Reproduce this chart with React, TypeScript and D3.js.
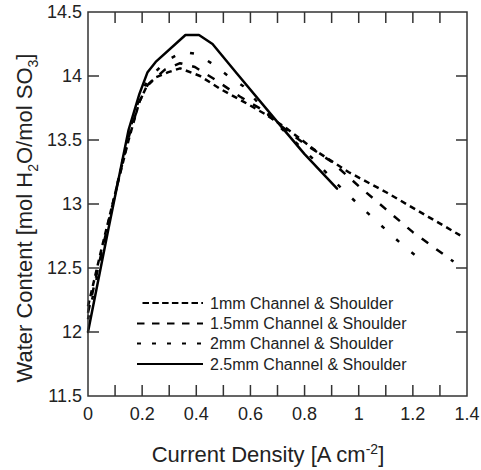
import React from "react";
import * as d3 from "d3";

const W = 481;
const H = 470;

const xTicks = [0, 0.2, 0.4, 0.6, 0.8, 1, 1.2, 1.4];
const xTickLabels = ["0", "0.2", "0.4", "0.6", "0.8", "1", "1.2", "1.4"];
const xMinorTicks = [0.1, 0.2, 0.3, 0.4, 0.5, 0.6, 0.7, 0.8, 0.9, 1.0, 1.1, 1.2, 1.3];
const yTicks = [11.5, 12, 12.5, 13, 13.5, 14, 14.5];
const yTickLabels = ["11.5", "12", "12.5", "13", "13.5", "14", "14.5"];

const seriesNames = [
  "1mm Channel & Shoulder",
  "1.5mm Channel & Shoulder",
  "2mm Channel & Shoulder",
  "2.5mm Channel & Shoulder",
];

const s1mm: [number, number][] = [
  [0, 12.2], [0.05, 12.65], [0.1, 13.08], [0.15, 13.5], [0.19, 13.8], [0.217, 13.92],
  [0.25, 13.99], [0.297, 14.03], [0.34, 14.06], [0.414, 14.0], [0.488, 13.9],
  [0.574, 13.8], [0.66, 13.695], [0.734, 13.59], [0.845, 13.41], [0.962, 13.25],
  [1.103, 13.09], [1.257, 12.9], [1.375, 12.755],
];
const s15mm: [number, number][] = [
  [0, 12.15], [0.05, 12.62], [0.1, 13.08], [0.15, 13.52], [0.19, 13.8], [0.22, 13.93],
  [0.284, 14.05], [0.34, 14.1], [0.395, 14.07], [0.463, 13.98], [0.561, 13.84],
  [0.648, 13.73], [0.7, 13.63], [0.8, 13.47], [0.9, 13.33], [1.0, 13.14],
  [1.1, 12.96], [1.2, 12.78], [1.35, 12.55],
];
const s2mm: [number, number][] = [
  [0, 12.1], [0.05, 12.6], [0.1, 13.08], [0.15, 13.55], [0.19, 13.83], [0.22, 13.97],
  [0.29, 14.12], [0.35, 14.19], [0.405, 14.17], [0.463, 14.09], [0.518, 14.0],
  [0.574, 13.92], [0.7, 13.62], [0.832, 13.35], [0.937, 13.12], [1.048, 12.9],
  [1.159, 12.685], [1.22, 12.58],
];
const s25mm: [number, number][] = [
  [0, 12.0], [0.075, 12.8], [0.15, 13.58], [0.19, 13.86], [0.22, 14.03], [0.25, 14.11],
  [0.36, 14.32], [0.41, 14.32], [0.46, 14.25], [0.55, 14.02], [0.7, 13.64],
  [0.8, 13.39], [0.92, 13.12],
];

const seriesData = [s1mm, s15mm, s2mm, s25mm];
const chartDash = ["6,4.5", "8,10", "4,16", "none"];
const legendDash = ["6.5,3.3", "7.5,7.5", "4,11", "none"];

const FONT = "Liberation Sans, Arial, Helvetica, sans-serif";

export default function App() {
  const left = 88, right = 467, top = 12, bottom = 396;
  const x = d3.scaleLinear().domain([0, 1.4]).range([left, right]);
  const y = d3.scaleLinear().domain([11.5, 14.5]).range([bottom, top]);
  const line = d3
    .line<[number, number]>()
    .x((d) => x(d[0]))
    .y((d) => y(d[1]));
  const tickLen = 11;
  const axisColor = "#333";

  const legendRows = [303, 323.5, 343.5, 364];
  const legendLineX0 = [142.5, 137, 137, 137];
  const legendLineX1 = 203;

  return (
    <svg
      width={W}
      height={H}
      style={{ position: "absolute", left: 0, top: 0, background: "#fff" }}
      fontFamily={FONT}
    >
      <rect x={0} y={0} width={W} height={H} fill="#fff" />
      {seriesData.map((d, i) => (
        <path
          key={i}
          d={line(d) || ""}
          fill="none"
          stroke="#000"
          strokeWidth={2.5}
          strokeDasharray={chartDash[i]}
          strokeLinejoin="round"
          strokeLinecap={i === 3 ? "round" : "butt"}
        />
      ))}
      <rect
        x={left}
        y={top}
        width={right - left}
        height={bottom - top}
        fill="none"
        stroke={axisColor}
        strokeWidth={1.5}
      />
      {xMinorTicks.map((t) => (
        <g key={"xt" + t}>
          <line x1={x(t)} x2={x(t)} y1={bottom} y2={bottom - tickLen} stroke={axisColor} strokeWidth={1.5} />
          <line x1={x(t)} x2={x(t)} y1={top} y2={top + tickLen} stroke={axisColor} strokeWidth={1.5} />
        </g>
      ))}
      {yTicks.slice(1, -1).map((t) => (
        <g key={"yt" + t}>
          <line x1={left} x2={left + tickLen} y1={y(t)} y2={y(t)} stroke={axisColor} strokeWidth={1.5} />
          <line x1={right} x2={right - tickLen} y1={y(t)} y2={y(t)} stroke={axisColor} strokeWidth={1.5} />
        </g>
      ))}
      {xTicks.map((t, i) => (
        <text key={"xl" + t} x={x(t)} y={420} textAnchor="middle" fontSize={18} fill="#222">
          {xTickLabels[i]}
        </text>
      ))}
      {yTicks.map((t, i) => (
        <text key={"yl" + t} x={82} y={y(t)} dy="0.36em" textAnchor="end" fontSize={18} fill="#222">
          {yTickLabels[i]}
        </text>
      ))}
      <text x={268} y={462} textAnchor="middle" fontSize={22} fill="#222">
        Current Density [A cm
        <tspan dy={-8} fontSize={14}>-2</tspan>
        <tspan dy={8}>]</tspan>
      </text>
      <text
        transform={`translate(32, 218) rotate(-90)`}
        textAnchor="middle"
        fontSize={22}
        fill="#222"
      >
        Water Content [mol H
        <tspan dy={6} fontSize={14}>2</tspan>
        <tspan dy={-6}>O/mol SO</tspan>
        <tspan dy={6} fontSize={14}>3</tspan>
        <tspan dy={-6}>]</tspan>
      </text>
      {seriesNames.map((name, i) => (
        <g key={"lg" + i}>
          <line
            x1={legendLineX0[i]}
            x2={legendLineX1}
            y1={legendRows[i]}
            y2={legendRows[i]}
            stroke="#000"
            strokeWidth={2.2}
            strokeDasharray={legendDash[i]}
          />
          <text x={210} y={legendRows[i]} dy="0.36em" fontSize={16} fill="#222">
            {name}
          </text>
        </g>
      ))}
    </svg>
  );
}
